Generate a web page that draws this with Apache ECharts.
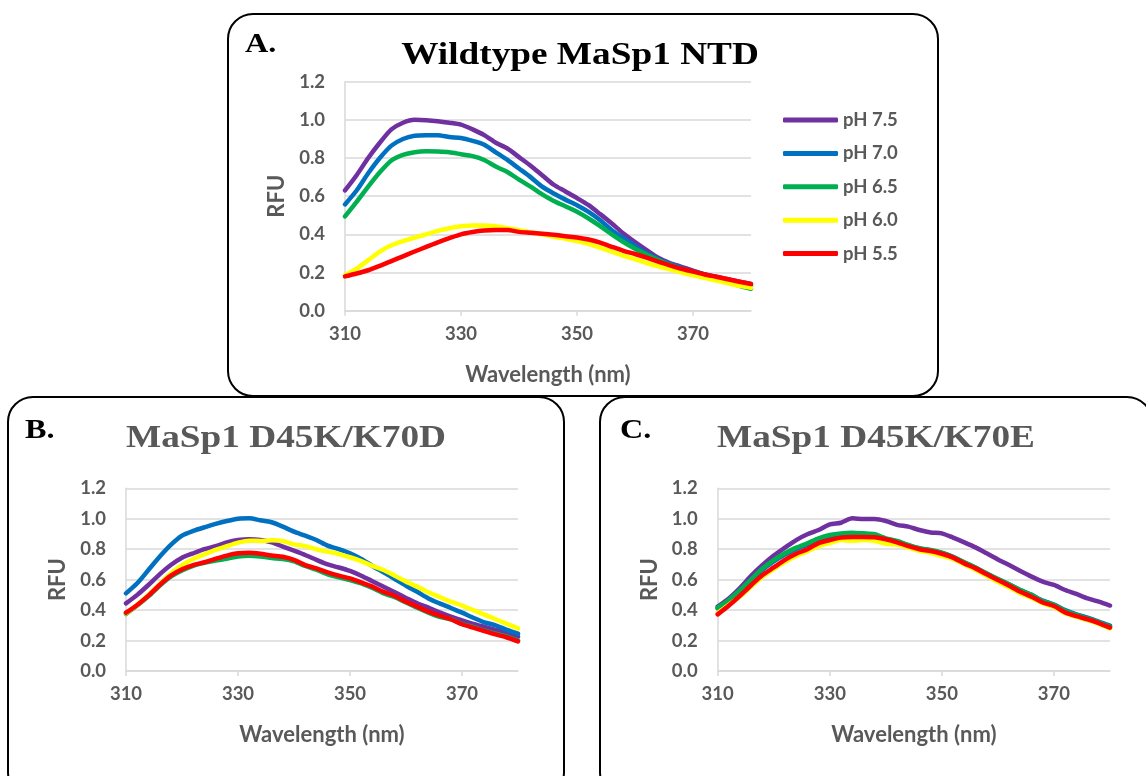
<!DOCTYPE html>
<html>
<head>
<meta charset="utf-8">
<script src="https://cdn.jsdelivr.net/npm/echarts@6/dist/echarts.min.js"></script>
<style>
  html, body { margin: 0; padding: 0; background: #fff; }
  #chart { width: 1146px; height: 776px; }
</style>
</head>
<body>
<div id="chart"></div>
<script>
// Tryptophan fluorescence emission spectra (RFU) of MaSp1 N-terminal domains at five pH values
const wavelengths = [310, 312, 314, 316, 318, 320, 322, 324, 326, 328, 330, 332, 334, 336, 338, 340, 342, 344,
                     346, 348, 350, 352, 354, 356, 358, 360, 362, 364, 366, 368, 370, 372, 374, 376, 378, 380];

const phLabels = ['pH 7.5', 'pH 7.0', 'pH 6.5', 'pH 6.0', 'pH 5.5'];
const phColors = ['#7030A0', '#0070C0', '#00B050', '#FFFF00', '#FF0000'];

const xTicks = [310, 330, 350, 370];
const yTicks = [0.0, 0.2, 0.4, 0.6, 0.8, 1.0, 1.2];

// A. Wildtype MaSp1 NTD
const wtPH75 = [0.63, 0.71, 0.80, 0.88, 0.95, 0.985, 1.00, 0.998, 0.993, 0.985, 0.975, 0.95, 0.92, 0.88, 0.85, 0.805, 0.76, 0.71,
                0.66, 0.625, 0.59, 0.553, 0.506, 0.457, 0.405, 0.36, 0.318, 0.278, 0.25, 0.23, 0.21, 0.19, 0.178, 0.165, 0.152, 0.14];
const wtPH70 = [0.557, 0.63, 0.72, 0.80, 0.865, 0.90, 0.917, 0.92, 0.92, 0.91, 0.905, 0.89, 0.87, 0.83, 0.79, 0.745, 0.70, 0.65,
                0.614, 0.582, 0.553, 0.518, 0.474, 0.422, 0.38, 0.34, 0.30, 0.27, 0.245, 0.225, 0.205, 0.19, 0.175, 0.16, 0.145, 0.13];
const wtPH65 = [0.494, 0.57, 0.65, 0.725, 0.787, 0.816, 0.83, 0.835, 0.834, 0.83, 0.82, 0.81, 0.79, 0.755, 0.727, 0.687, 0.65, 0.61,
                0.575, 0.547, 0.518, 0.483, 0.443, 0.40, 0.36, 0.325, 0.295, 0.265, 0.24, 0.217, 0.196, 0.18, 0.165, 0.15, 0.13, 0.115];
const wtPH60 = [0.186, 0.22, 0.265, 0.31, 0.343, 0.365, 0.383, 0.40, 0.418, 0.432, 0.442, 0.447, 0.447, 0.442, 0.432, 0.422, 0.41, 0.40,
                0.387, 0.377, 0.365, 0.35, 0.33, 0.31, 0.288, 0.27, 0.25, 0.233, 0.217, 0.20, 0.185, 0.172, 0.158, 0.144, 0.13, 0.12];
const wtPH55 = [0.18, 0.195, 0.212, 0.235, 0.26, 0.285, 0.31, 0.334, 0.358, 0.38, 0.40, 0.412, 0.42, 0.423, 0.423, 0.413, 0.408, 0.403,
                0.398, 0.39, 0.384, 0.373, 0.357, 0.335, 0.314, 0.297, 0.278, 0.257, 0.238, 0.22, 0.205, 0.19, 0.178, 0.165, 0.152, 0.14];

// B. MaSp1 D45K/K70D
const kdPH75 = [0.444, 0.50, 0.565, 0.635, 0.696, 0.744, 0.773, 0.80, 0.82, 0.845, 0.86, 0.865, 0.86, 0.845, 0.817, 0.79, 0.762, 0.73,
                0.70, 0.68, 0.657, 0.626, 0.59, 0.554, 0.517, 0.48, 0.444, 0.416, 0.385, 0.357, 0.333, 0.31, 0.29, 0.27, 0.25, 0.225];
const kdPH70 = [0.51, 0.576, 0.663, 0.75, 0.828, 0.889, 0.92, 0.944, 0.966, 0.985, 1.0, 1.003, 0.99, 0.977, 0.948, 0.915, 0.889, 0.86,
                0.823, 0.80, 0.773, 0.736, 0.69, 0.648, 0.604, 0.56, 0.52, 0.477, 0.444, 0.414, 0.383, 0.35, 0.32, 0.30, 0.27, 0.245];
const kdPH65 = [0.375, 0.43, 0.49, 0.56, 0.62, 0.66, 0.69, 0.71, 0.725, 0.737, 0.752, 0.757, 0.752, 0.742, 0.735, 0.72, 0.69, 0.665,
                0.635, 0.615, 0.598, 0.575, 0.545, 0.51, 0.485, 0.45, 0.415, 0.383, 0.355, 0.34, 0.31, 0.29, 0.265, 0.245, 0.225, 0.20];
const kdPH60 = [0.38, 0.434, 0.50, 0.57, 0.64, 0.696, 0.736, 0.766, 0.795, 0.82, 0.843, 0.856, 0.854, 0.858, 0.854, 0.832, 0.82, 0.80,
                0.784, 0.768, 0.747, 0.722, 0.69, 0.663, 0.626, 0.587, 0.554, 0.517, 0.486, 0.455, 0.43, 0.40, 0.37, 0.34, 0.31, 0.28];
const kdPH55 = [0.383, 0.434, 0.495, 0.565, 0.626, 0.668, 0.696, 0.714, 0.736, 0.758, 0.773, 0.777, 0.77, 0.758, 0.75, 0.73, 0.696, 0.674,
                0.648, 0.626, 0.608, 0.582, 0.554, 0.52, 0.493, 0.455, 0.423, 0.39, 0.363, 0.34, 0.307, 0.285, 0.262, 0.24, 0.22, 0.195];

// C. MaSp1 D45K/K70E
const kePH75 = [0.423, 0.477, 0.547, 0.626, 0.696, 0.758, 0.81, 0.86, 0.898, 0.926, 0.963, 0.974, 1.003, 0.998, 0.998, 0.985, 0.96, 0.948,
                0.926, 0.91, 0.904, 0.876, 0.845, 0.812, 0.773, 0.733, 0.696, 0.657, 0.62, 0.587, 0.565, 0.532, 0.506, 0.477, 0.455, 0.43];
const kePH70 = [0.41, 0.46, 0.525, 0.595, 0.665, 0.72, 0.765, 0.80, 0.83, 0.86, 0.882, 0.893, 0.898, 0.896, 0.89, 0.868, 0.85, 0.825,
                0.805, 0.792, 0.775, 0.748, 0.712, 0.678, 0.64, 0.603, 0.568, 0.532, 0.50, 0.462, 0.436, 0.40, 0.372, 0.35, 0.325, 0.298];
const kePH65 = [0.416, 0.466, 0.532, 0.604, 0.674, 0.729, 0.773, 0.81, 0.839, 0.871, 0.893, 0.904, 0.908, 0.904, 0.898, 0.871, 0.854, 0.828,
                0.806, 0.795, 0.777, 0.75, 0.714, 0.68, 0.64, 0.604, 0.57, 0.532, 0.50, 0.46, 0.434, 0.396, 0.368, 0.345, 0.32, 0.29];
const kePH60 = [0.38, 0.435, 0.49, 0.555, 0.62, 0.67, 0.715, 0.755, 0.785, 0.82, 0.84, 0.86, 0.855, 0.86, 0.855, 0.835, 0.83, 0.81,
                0.79, 0.775, 0.755, 0.735, 0.70, 0.665, 0.625, 0.585, 0.55, 0.51, 0.48, 0.445, 0.42, 0.38, 0.355, 0.335, 0.31, 0.28];
const kePH55 = [0.372, 0.43, 0.495, 0.565, 0.63, 0.68, 0.73, 0.77, 0.80, 0.84, 0.86, 0.876, 0.88, 0.88, 0.878, 0.865, 0.845, 0.82,
                0.80, 0.788, 0.77, 0.745, 0.707, 0.674, 0.635, 0.598, 0.56, 0.52, 0.488, 0.45, 0.427, 0.385, 0.36, 0.34, 0.315, 0.285];

const panelSets = [
  [wtPH75, wtPH70, wtPH65, wtPH60, wtPH55],
  [kdPH75, kdPH70, kdPH65, kdPH60, kdPH55],
  [kePH75, kePH70, kePH65, kePH60, kePH55]
];

const GREY = '#595959';
const GRID_GREY = '#d9d9d9';
const SANS = 'Lato';
const SERIF = '"Liberation Serif"';

const grids = [
  { left: 345, top: 81.7, width: 406, height: 229 },
  { left: 126, top: 488.3, width: 392, height: 182.7 },
  { left: 717.7, top: 488.3, width: 392.3, height: 182.7 }
];

const xAxes = grids.map((g, i) => ({
  type: 'value',
  gridIndex: i,
  min: xTicks[0],
  max: 380,
  interval: xTicks[1] - xTicks[0],
  name: 'Wavelength (nm)',
  nameLocation: 'middle',
  nameGap: 53,
  nameTextStyle: { color: GREY, fontFamily: SANS, fontWeight: 'bold', fontSize: 22 },
  axisLine: { show: true, lineStyle: { color: GRID_GREY, width: 1.5 } },
  axisTick: { show: true, length: 5, lineStyle: { color: GRID_GREY, width: 1.5 } },
  axisLabel: {
    color: GREY, fontFamily: SANS, fontWeight: 'bold', fontSize: 18.5, margin: 14,
    showMaxLabel: false,
    formatter: v => (xTicks.indexOf(v) >= 0 ? String(v) : '')
  },
  splitLine: { show: false }
}));

const yAxes = grids.map((g, i) => ({
  type: 'value',
  gridIndex: i,
  min: yTicks[0],
  max: yTicks[yTicks.length - 1],
  interval: yTicks[1] - yTicks[0],
  name: 'RFU',
  nameLocation: 'middle',
  nameGap: 57,
  nameRotate: 90,
  nameTextStyle: { color: GREY, fontFamily: SANS, fontWeight: 'bold', fontSize: 22 },
  axisLine: { show: true, lineStyle: { color: GRID_GREY, width: 1.5 } },
  axisTick: { show: false },
  axisLabel: {
    color: GREY, fontFamily: SANS, fontWeight: 'bold', fontSize: 18.5, margin: 20,
    formatter: v => v.toFixed(1)
  },
  splitLine: { show: true, lineStyle: { color: GRID_GREY, width: 1.5 } }
}));

const series = [];
panelSets.forEach((set, p) => {
  set.forEach((vals, k) => {
    series.push({
      type: 'line',
      name: phLabels[k],
      xAxisIndex: p,
      yAxisIndex: p,
      data: wavelengths.map((w, j) => [w, vals[j]]),
      showSymbol: false,
      symbol: 'none',
      smooth: 0.25,
      color: phColors[k],
      lineStyle: { width: 4.5, color: phColors[k], cap: 'round', join: 'round' },
      emphasis: { disabled: true },
      animation: false
    });
  });
});

function frame(x, y, w, h) {
  return {
    type: 'rect', silent: true, z: -1,
    shape: { x: x, y: y, width: w, height: h, r: 25 },
    style: { fill: 'none', stroke: '#000', lineWidth: 2 }
  };
}

function panelLetter(text, x, y) {
  return {
    type: 'text', silent: true,
    x: x, y: y, scaleX: 1.15,
    style: { text: text, fill: '#000', font: 'bold 28px ' + SERIF, textAlign: 'left', textVerticalAlign: 'middle' }
  };
}

function panelTitle(text, cx, cy, color) {
  return {
    type: 'text', silent: true,
    x: cx, y: cy, scaleX: 1.165,
    style: { text: text, fill: color, font: 'bold 32px ' + SERIF, textAlign: 'center', textVerticalAlign: 'middle' }
  };
}

const option = {
  backgroundColor: '#fff',
  animation: false,
  grid: grids.map(g => Object.assign({ containLabel: false }, g)),
  xAxis: xAxes,
  yAxis: yAxes,
  legend: {
    orient: 'vertical',
    left: 783,
    top: 110,
    padding: 0,
    itemWidth: 55,
    itemHeight: 5,
    itemGap: 13.4,
    icon: 'roundRect',
    data: phLabels,
    selectedMode: false,
    textStyle: { color: GREY, fontFamily: SANS, fontWeight: 'bold', fontSize: 18.5, lineHeight: 20 }
  },
  graphic: [
    frame(228, 14, 710, 382),
    frame(8, 397, 556, 400),
    frame(600, 397, 552, 400),
    panelLetter('A.', 245, 45),
    panelLetter('B.', 25, 431),
    panelLetter('C.', 620, 431),
    panelTitle('Wildtype MaSp1 NTD', 580, 56, '#000'),
    panelTitle('MaSp1 D45K/K70D', 286, 439, GREY),
    panelTitle('MaSp1 D45K/K70E', 876, 439, GREY)
  ],
  series: series
};

const chart = echarts.init(document.getElementById('chart'), null, { renderer: 'canvas' });
chart.setOption(option);
</script>
</body>
</html>
